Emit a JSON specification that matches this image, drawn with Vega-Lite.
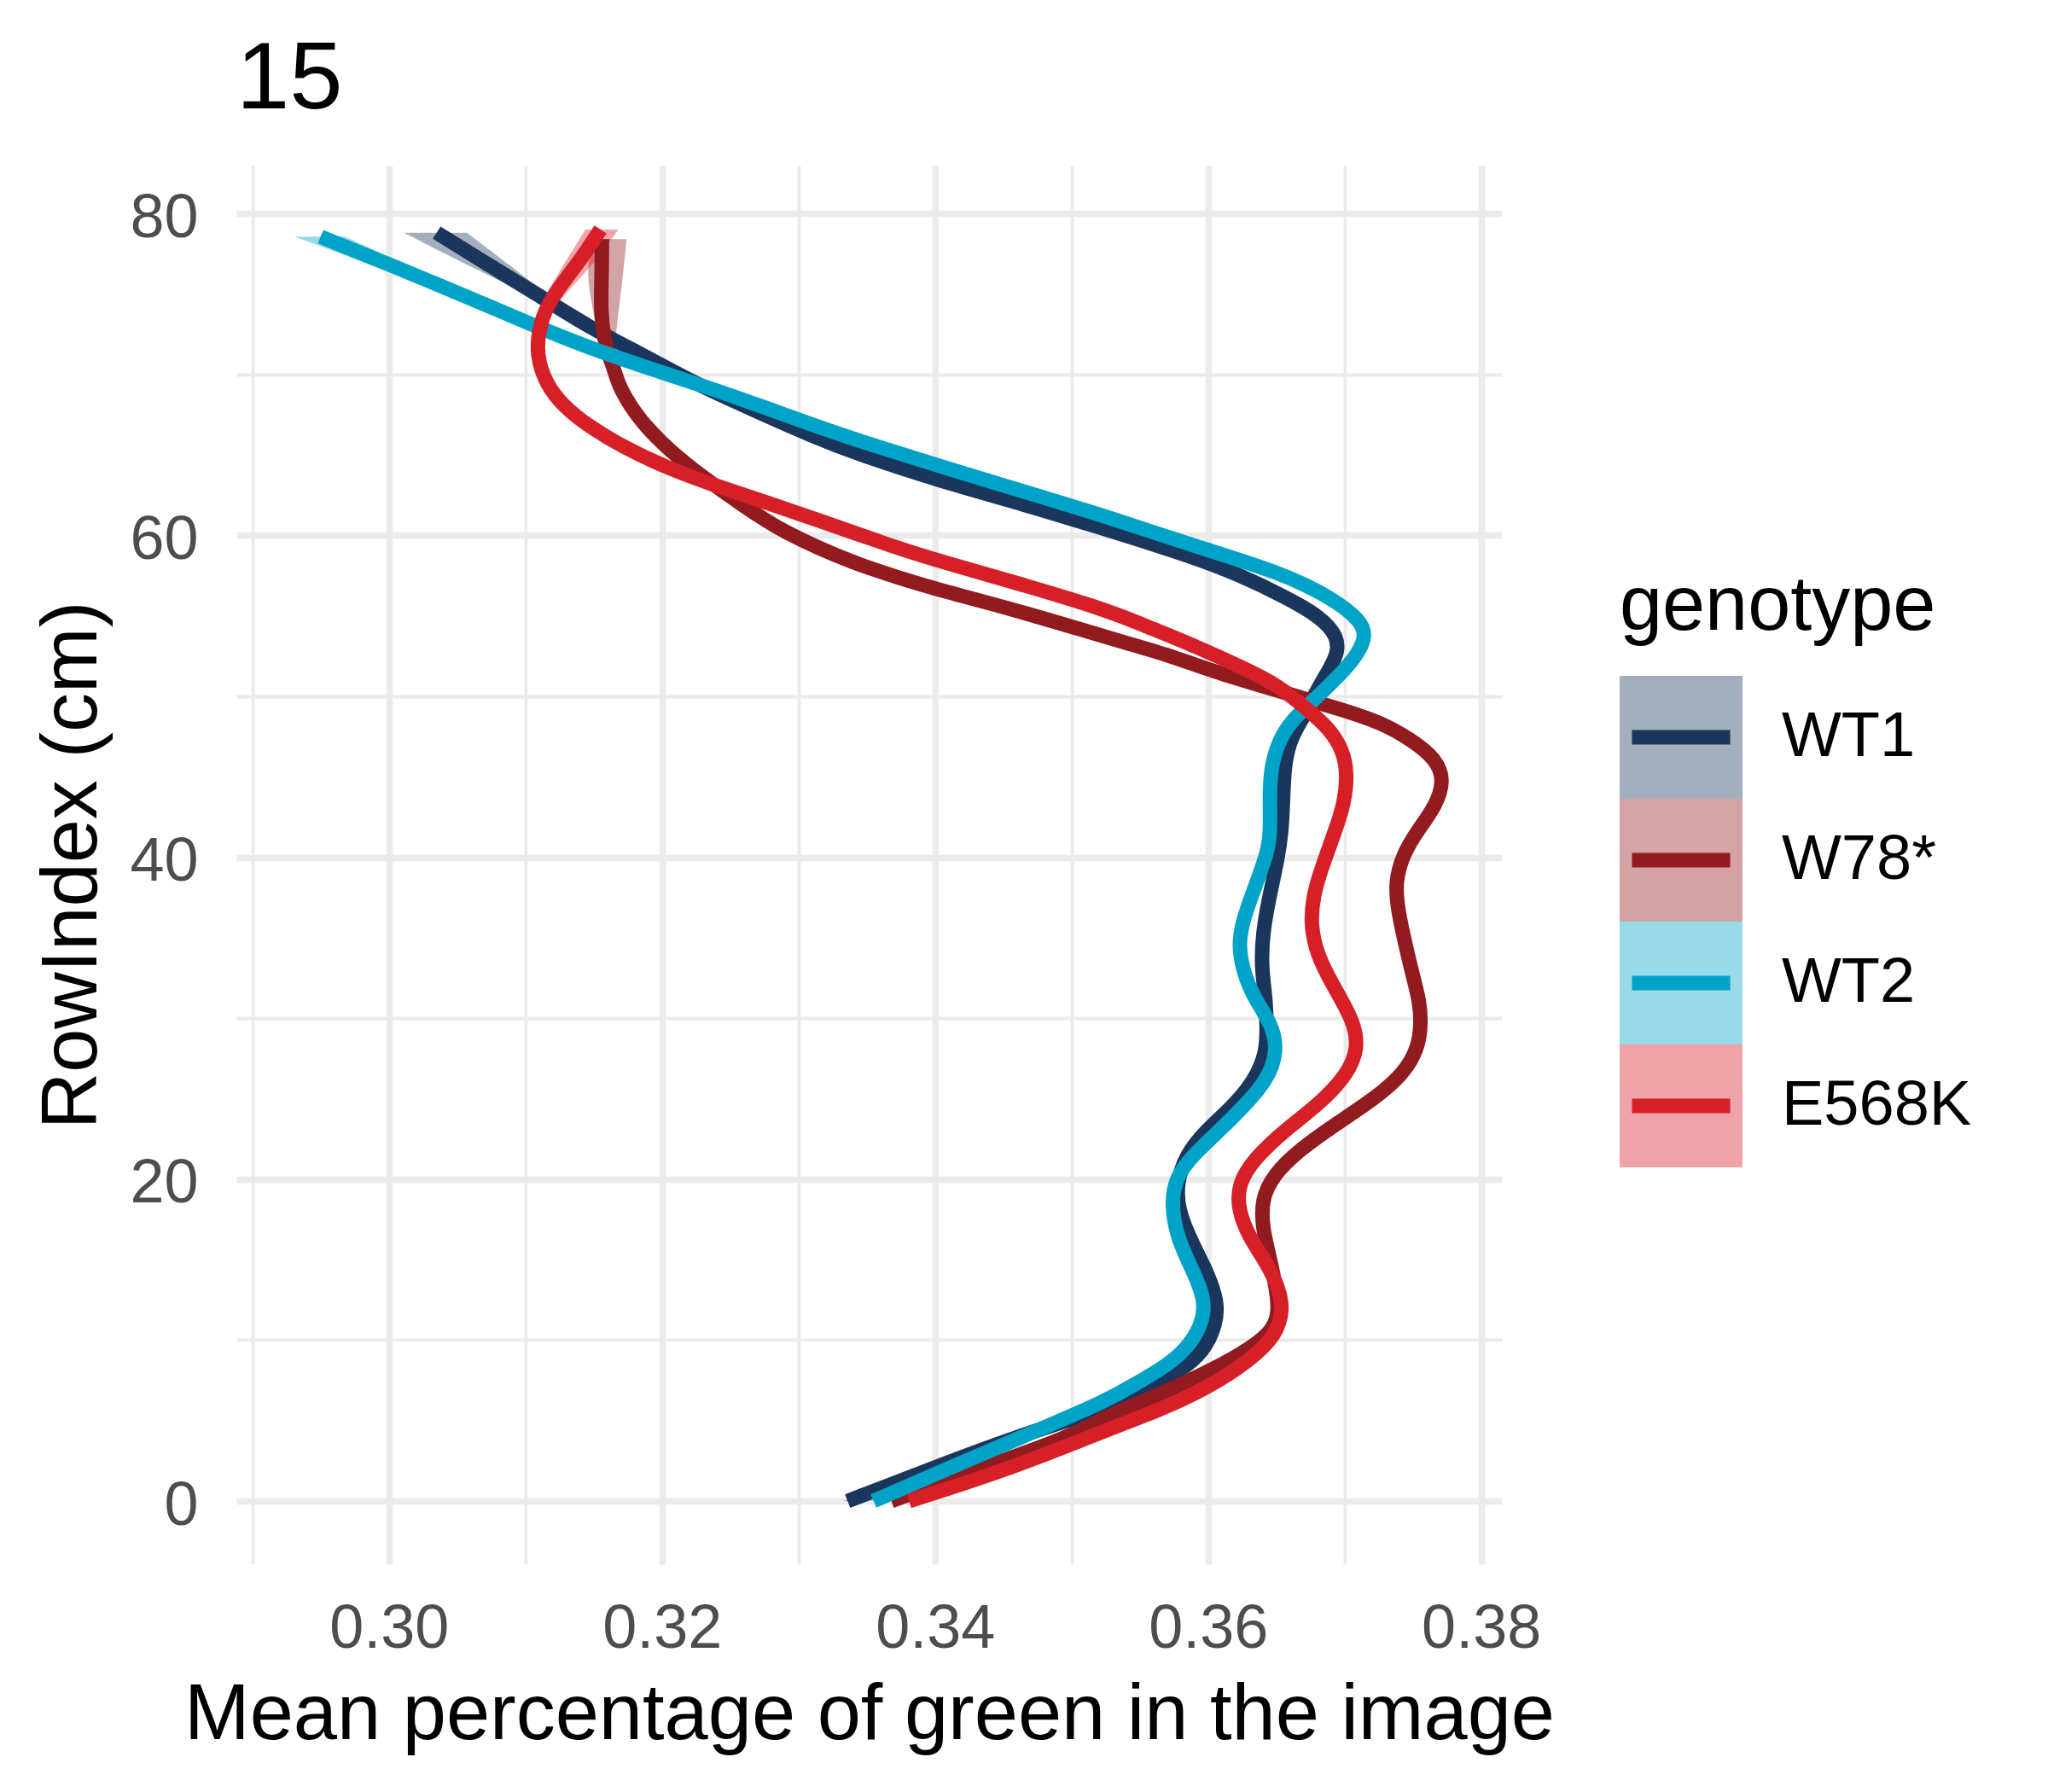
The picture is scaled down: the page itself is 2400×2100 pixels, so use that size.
{
  "$schema": "https://vega.github.io/schema/vega-lite/v6.json",
  "width": 1483,
  "height": 1639,
  "autosize": {"type": "none"},
  "padding": {"left": 277, "top": 194, "right": 640, "bottom": 267},
  "background": "white",
  "config": {"view": {"stroke": null}, "font": "Liberation Sans"},
  "title": {"text": "15", "anchor": "start", "frame": "group", "fontSize": 112, "fontWeight": "normal", "color": "black", "baseline": "alphabetic", "offset": -45},
  "data": {"values": [
    {"genotype":"WT1","RowIndex":0,"green":0.3336,"lo":0.3333,"hi":0.3339},
    {"genotype":"WT1","RowIndex":2,"green":0.3397,"lo":0.3394,"hi":0.3400},
    {"genotype":"WT1","RowIndex":4,"green":0.3459,"lo":0.3456,"hi":0.3462},
    {"genotype":"WT1","RowIndex":5.8,"green":0.3528,"lo":0.3525,"hi":0.3531},
    {"genotype":"WT1","RowIndex":7.0,"green":0.3555,"lo":0.3552,"hi":0.3558},
    {"genotype":"WT1","RowIndex":8.1,"green":0.3580,"lo":0.3577,"hi":0.3583},
    {"genotype":"WT1","RowIndex":9.3,"green":0.3597,"lo":0.3594,"hi":0.3600},
    {"genotype":"WT1","RowIndex":11.0,"green":0.3606,"lo":0.3603,"hi":0.3609},
    {"genotype":"WT1","RowIndex":12.4,"green":0.3607,"lo":0.3604,"hi":0.3610},
    {"genotype":"WT1","RowIndex":14.1,"green":0.3600,"lo":0.3597,"hi":0.3603},
    {"genotype":"WT1","RowIndex":15.9,"green":0.3589,"lo":0.3586,"hi":0.3592},
    {"genotype":"WT1","RowIndex":18.0,"green":0.3578,"lo":0.3575,"hi":0.3581},
    {"genotype":"WT1","RowIndex":19.8,"green":0.3577,"lo":0.3574,"hi":0.3580},
    {"genotype":"WT1","RowIndex":21.5,"green":0.3584,"lo":0.3581,"hi":0.3587},
    {"genotype":"WT1","RowIndex":22.9,"green":0.3597,"lo":0.3594,"hi":0.3600},
    {"genotype":"WT1","RowIndex":24.5,"green":0.3618,"lo":0.3615,"hi":0.3621},
    {"genotype":"WT1","RowIndex":26.1,"green":0.3634,"lo":0.3631,"hi":0.3637},
    {"genotype":"WT1","RowIndex":27.9,"green":0.3643,"lo":0.3640,"hi":0.3646},
    {"genotype":"WT1","RowIndex":29.6,"green":0.3643,"lo":0.3640,"hi":0.3646},
    {"genotype":"WT1","RowIndex":31.4,"green":0.3642,"lo":0.3639,"hi":0.3645},
    {"genotype":"WT1","RowIndex":33.2,"green":0.3639,"lo":0.3636,"hi":0.3642},
    {"genotype":"WT1","RowIndex":35.3,"green":0.3640,"lo":0.3637,"hi":0.3643},
    {"genotype":"WT1","RowIndex":37.6,"green":0.3645,"lo":0.3642,"hi":0.3648},
    {"genotype":"WT1","RowIndex":39.9,"green":0.3651,"lo":0.3648,"hi":0.3654},
    {"genotype":"WT1","RowIndex":41.6,"green":0.3654,"lo":0.3651,"hi":0.3657},
    {"genotype":"WT1","RowIndex":43.8,"green":0.3655,"lo":0.3652,"hi":0.3658},
    {"genotype":"WT1","RowIndex":45.9,"green":0.3656,"lo":0.3653,"hi":0.3659},
    {"genotype":"WT1","RowIndex":47.5,"green":0.3661,"lo":0.3658,"hi":0.3664},
    {"genotype":"WT1","RowIndex":48.7,"green":0.3670,"lo":0.3667,"hi":0.3673},
    {"genotype":"WT1","RowIndex":50.1,"green":0.3678,"lo":0.3675,"hi":0.3681},
    {"genotype":"WT1","RowIndex":51.4,"green":0.3687,"lo":0.3684,"hi":0.3690},
    {"genotype":"WT1","RowIndex":52.6,"green":0.3695,"lo":0.3692,"hi":0.3698},
    {"genotype":"WT1","RowIndex":53.7,"green":0.3695,"lo":0.3692,"hi":0.3698},
    {"genotype":"WT1","RowIndex":54.9,"green":0.3683,"lo":0.3680,"hi":0.3686},
    {"genotype":"WT1","RowIndex":56.2,"green":0.3656,"lo":0.3653,"hi":0.3659},
    {"genotype":"WT1","RowIndex":57.5,"green":0.3624,"lo":0.3621,"hi":0.3627},
    {"genotype":"WT1","RowIndex":58.6,"green":0.3591,"lo":0.3588,"hi":0.3594},
    {"genotype":"WT1","RowIndex":60.3,"green":0.3528,"lo":0.3525,"hi":0.3531},
    {"genotype":"WT1","RowIndex":61.9,"green":0.3466,"lo":0.3463,"hi":0.3469},
    {"genotype":"WT1","RowIndex":63.4,"green":0.3403,"lo":0.3400,"hi":0.3406},
    {"genotype":"WT1","RowIndex":65.0,"green":0.3345,"lo":0.3342,"hi":0.3348},
    {"genotype":"WT1","RowIndex":66.2,"green":0.3309,"lo":0.3306,"hi":0.3312},
    {"genotype":"WT1","RowIndex":67.8,"green":0.3267,"lo":0.3264,"hi":0.3270},
    {"genotype":"WT1","RowIndex":69.4,"green":0.3225,"lo":0.3222,"hi":0.3228},
    {"genotype":"WT1","RowIndex":71.2,"green":0.3186,"lo":0.3183,"hi":0.3189},
    {"genotype":"WT1","RowIndex":73.0,"green":0.3145,"lo":0.3142,"hi":0.3148},
    {"genotype":"WT1","RowIndex":74.9,"green":0.3110,"lo":0.3104,"hi":0.3117},
    {"genotype":"WT1","RowIndex":77.0,"green":0.3069,"lo":0.3052,"hi":0.3085},
    {"genotype":"WT1","RowIndex":78.8,"green":0.3035,"lo":0.3011,"hi":0.3057},

    {"genotype":"W78*","RowIndex":0,"green":0.3368,"lo":0.3365,"hi":0.3371},
    {"genotype":"W78*","RowIndex":2,"green":0.3432,"lo":0.3429,"hi":0.3435},
    {"genotype":"W78*","RowIndex":4,"green":0.3500,"lo":0.3497,"hi":0.3503},
    {"genotype":"W78*","RowIndex":5.4,"green":0.3528,"lo":0.3525,"hi":0.3531},
    {"genotype":"W78*","RowIndex":6.4,"green":0.3559,"lo":0.3556,"hi":0.3562},
    {"genotype":"W78*","RowIndex":7.9,"green":0.3597,"lo":0.3594,"hi":0.3600},
    {"genotype":"W78*","RowIndex":9.1,"green":0.3624,"lo":0.3621,"hi":0.3627},
    {"genotype":"W78*","RowIndex":10.4,"green":0.3646,"lo":0.3643,"hi":0.3649},
    {"genotype":"W78*","RowIndex":11.6,"green":0.3652,"lo":0.3649,"hi":0.3655},
    {"genotype":"W78*","RowIndex":13.2,"green":0.3650,"lo":0.3647,"hi":0.3653},
    {"genotype":"W78*","RowIndex":15.2,"green":0.3645,"lo":0.3642,"hi":0.3648},
    {"genotype":"W78*","RowIndex":16.9,"green":0.3640,"lo":0.3637,"hi":0.3643},
    {"genotype":"W78*","RowIndex":18.7,"green":0.3639,"lo":0.3636,"hi":0.3642},
    {"genotype":"W78*","RowIndex":20.3,"green":0.3648,"lo":0.3645,"hi":0.3651},
    {"genotype":"W78*","RowIndex":21.9,"green":0.3668,"lo":0.3665,"hi":0.3671},
    {"genotype":"W78*","RowIndex":23.5,"green":0.3695,"lo":0.3692,"hi":0.3698},
    {"genotype":"W78*","RowIndex":25.0,"green":0.3722,"lo":0.3719,"hi":0.3725},
    {"genotype":"W78*","RowIndex":26.6,"green":0.3744,"lo":0.3741,"hi":0.3747},
    {"genotype":"W78*","RowIndex":28.2,"green":0.3754,"lo":0.3751,"hi":0.3757},
    {"genotype":"W78*","RowIndex":29.6,"green":0.3756,"lo":0.3753,"hi":0.3759},
    {"genotype":"W78*","RowIndex":31.0,"green":0.3755,"lo":0.3752,"hi":0.3758},
    {"genotype":"W78*","RowIndex":32.3,"green":0.3751,"lo":0.3748,"hi":0.3754},
    {"genotype":"W78*","RowIndex":34.4,"green":0.3745,"lo":0.3742,"hi":0.3748},
    {"genotype":"W78*","RowIndex":36.7,"green":0.3739,"lo":0.3736,"hi":0.3742},
    {"genotype":"W78*","RowIndex":38.5,"green":0.3737,"lo":0.3734,"hi":0.3740},
    {"genotype":"W78*","RowIndex":40.2,"green":0.3743,"lo":0.3740,"hi":0.3746},
    {"genotype":"W78*","RowIndex":41.6,"green":0.3753,"lo":0.3750,"hi":0.3756},
    {"genotype":"W78*","RowIndex":43.2,"green":0.3767,"lo":0.3764,"hi":0.3770},
    {"genotype":"W78*","RowIndex":44.8,"green":0.3773,"lo":0.3770,"hi":0.3776},
    {"genotype":"W78*","RowIndex":46.1,"green":0.3767,"lo":0.3764,"hi":0.3770},
    {"genotype":"W78*","RowIndex":47.3,"green":0.3749,"lo":0.3746,"hi":0.3752},
    {"genotype":"W78*","RowIndex":48.4,"green":0.3726,"lo":0.3723,"hi":0.3729},
    {"genotype":"W78*","RowIndex":49.2,"green":0.3697,"lo":0.3694,"hi":0.3700},
    {"genotype":"W78*","RowIndex":50.3,"green":0.3653,"lo":0.3650,"hi":0.3656},
    {"genotype":"W78*","RowIndex":51.5,"green":0.3605,"lo":0.3602,"hi":0.3608},
    {"genotype":"W78*","RowIndex":52.6,"green":0.3570,"lo":0.3567,"hi":0.3573},
    {"genotype":"W78*","RowIndex":53.6,"green":0.3528,"lo":0.3525,"hi":0.3531},
    {"genotype":"W78*","RowIndex":55.2,"green":0.3466,"lo":0.3463,"hi":0.3469},
    {"genotype":"W78*","RowIndex":56.6,"green":0.3403,"lo":0.3400,"hi":0.3406},
    {"genotype":"W78*","RowIndex":57.3,"green":0.3376,"lo":0.3373,"hi":0.3379},
    {"genotype":"W78*","RowIndex":58.2,"green":0.3342,"lo":0.3339,"hi":0.3345},
    {"genotype":"W78*","RowIndex":60.2,"green":0.3288,"lo":0.3285,"hi":0.3291},
    {"genotype":"W78*","RowIndex":62.0,"green":0.3257,"lo":0.3254,"hi":0.3260},
    {"genotype":"W78*","RowIndex":63.6,"green":0.3230,"lo":0.3227,"hi":0.3233},
    {"genotype":"W78*","RowIndex":65.3,"green":0.3205,"lo":0.3202,"hi":0.3208},
    {"genotype":"W78*","RowIndex":67.1,"green":0.3184,"lo":0.3181,"hi":0.3187},
    {"genotype":"W78*","RowIndex":69.1,"green":0.3169,"lo":0.3165,"hi":0.3173},
    {"genotype":"W78*","RowIndex":70.3,"green":0.3165,"lo":0.3161,"hi":0.3169},
    {"genotype":"W78*","RowIndex":71.2,"green":0.3161,"lo":0.3156,"hi":0.3165},
    {"genotype":"W78*","RowIndex":72.1,"green":0.3158,"lo":0.3153,"hi":0.3166},
    {"genotype":"W78*","RowIndex":73.8,"green":0.3155,"lo":0.3150,"hi":0.3168},
    {"genotype":"W78*","RowIndex":76.5,"green":0.3156,"lo":0.3144,"hi":0.3172},
    {"genotype":"W78*","RowIndex":78.4,"green":0.3156,"lo":0.3150,"hi":0.3174},

    {"genotype":"WT2","RowIndex":0,"green":0.3355,"lo":0.3352,"hi":0.3358},
    {"genotype":"WT2","RowIndex":2,"green":0.3409,"lo":0.3406,"hi":0.3412},
    {"genotype":"WT2","RowIndex":4,"green":0.3464,"lo":0.3461,"hi":0.3467},
    {"genotype":"WT2","RowIndex":6.3,"green":0.3528,"lo":0.3525,"hi":0.3531},
    {"genotype":"WT2","RowIndex":7.4,"green":0.3549,"lo":0.3546,"hi":0.3552},
    {"genotype":"WT2","RowIndex":8.4,"green":0.3570,"lo":0.3567,"hi":0.3573},
    {"genotype":"WT2","RowIndex":9.7,"green":0.3587,"lo":0.3584,"hi":0.3590},
    {"genotype":"WT2","RowIndex":11.3,"green":0.3597,"lo":0.3594,"hi":0.3600},
    {"genotype":"WT2","RowIndex":12.7,"green":0.3597,"lo":0.3594,"hi":0.3600},
    {"genotype":"WT2","RowIndex":14.3,"green":0.3589,"lo":0.3586,"hi":0.3592},
    {"genotype":"WT2","RowIndex":16.2,"green":0.3578,"lo":0.3575,"hi":0.3581},
    {"genotype":"WT2","RowIndex":18.3,"green":0.3573,"lo":0.3570,"hi":0.3576},
    {"genotype":"WT2","RowIndex":20.1,"green":0.3576,"lo":0.3573,"hi":0.3579},
    {"genotype":"WT2","RowIndex":21.5,"green":0.3589,"lo":0.3586,"hi":0.3592},
    {"genotype":"WT2","RowIndex":22.9,"green":0.3607,"lo":0.3604,"hi":0.3610},
    {"genotype":"WT2","RowIndex":24.5,"green":0.3626,"lo":0.3623,"hi":0.3629},
    {"genotype":"WT2","RowIndex":26.1,"green":0.3643,"lo":0.3640,"hi":0.3646},
    {"genotype":"WT2","RowIndex":27.9,"green":0.3651,"lo":0.3648,"hi":0.3654},
    {"genotype":"WT2","RowIndex":29.6,"green":0.3647,"lo":0.3644,"hi":0.3650},
    {"genotype":"WT2","RowIndex":31.2,"green":0.3634,"lo":0.3631,"hi":0.3637},
    {"genotype":"WT2","RowIndex":32.8,"green":0.3626,"lo":0.3623,"hi":0.3629},
    {"genotype":"WT2","RowIndex":34.6,"green":0.3622,"lo":0.3619,"hi":0.3625},
    {"genotype":"WT2","RowIndex":36.2,"green":0.3626,"lo":0.3623,"hi":0.3629},
    {"genotype":"WT2","RowIndex":37.6,"green":0.3632,"lo":0.3629,"hi":0.3635},
    {"genotype":"WT2","RowIndex":39.7,"green":0.3641,"lo":0.3638,"hi":0.3644},
    {"genotype":"WT2","RowIndex":41.1,"green":0.3646,"lo":0.3643,"hi":0.3649},
    {"genotype":"WT2","RowIndex":43.8,"green":0.3645,"lo":0.3642,"hi":0.3648},
    {"genotype":"WT2","RowIndex":45.5,"green":0.3646,"lo":0.3643,"hi":0.3649},
    {"genotype":"WT2","RowIndex":47.1,"green":0.3651,"lo":0.3648,"hi":0.3654},
    {"genotype":"WT2","RowIndex":48.5,"green":0.3661,"lo":0.3658,"hi":0.3664},
    {"genotype":"WT2","RowIndex":49.8,"green":0.3678,"lo":0.3675,"hi":0.3681},
    {"genotype":"WT2","RowIndex":51.2,"green":0.3695,"lo":0.3692,"hi":0.3698},
    {"genotype":"WT2","RowIndex":52.4,"green":0.3708,"lo":0.3705,"hi":0.3711},
    {"genotype":"WT2","RowIndex":53.7,"green":0.3716,"lo":0.3713,"hi":0.3719},
    {"genotype":"WT2","RowIndex":54.7,"green":0.3712,"lo":0.3709,"hi":0.3715},
    {"genotype":"WT2","RowIndex":56.1,"green":0.3691,"lo":0.3688,"hi":0.3694},
    {"genotype":"WT2","RowIndex":57.7,"green":0.3653,"lo":0.3650,"hi":0.3656},
    {"genotype":"WT2","RowIndex":59.3,"green":0.3591,"lo":0.3588,"hi":0.3594},
    {"genotype":"WT2","RowIndex":61.1,"green":0.3528,"lo":0.3525,"hi":0.3531},
    {"genotype":"WT2","RowIndex":62.7,"green":0.3466,"lo":0.3463,"hi":0.3469},
    {"genotype":"WT2","RowIndex":64.3,"green":0.3403,"lo":0.3400,"hi":0.3406},
    {"genotype":"WT2","RowIndex":65.9,"green":0.3343,"lo":0.3340,"hi":0.3346},
    {"genotype":"WT2","RowIndex":66.9,"green":0.3309,"lo":0.3306,"hi":0.3312},
    {"genotype":"WT2","RowIndex":68.2,"green":0.3267,"lo":0.3264,"hi":0.3270},
    {"genotype":"WT2","RowIndex":69.4,"green":0.3226,"lo":0.3223,"hi":0.3229},
    {"genotype":"WT2","RowIndex":70.5,"green":0.3186,"lo":0.3183,"hi":0.3189},
    {"genotype":"WT2","RowIndex":71.7,"green":0.3145,"lo":0.3142,"hi":0.3148},
    {"genotype":"WT2","RowIndex":73.0,"green":0.3107,"lo":0.3104,"hi":0.3110},
    {"genotype":"WT2","RowIndex":74.5,"green":0.3066,"lo":0.3059,"hi":0.3074},
    {"genotype":"WT2","RowIndex":76.6,"green":0.3007,"lo":0.2993,"hi":0.3018},
    {"genotype":"WT2","RowIndex":78.55,"green":0.2950,"lo":0.2931,"hi":0.2968},

    {"genotype":"E568K","RowIndex":0,"green":0.3381,"lo":0.3378,"hi":0.3384},
    {"genotype":"E568K","RowIndex":2,"green":0.3455,"lo":0.3452,"hi":0.3458},
    {"genotype":"E568K","RowIndex":4.5,"green":0.3528,"lo":0.3525,"hi":0.3531},
    {"genotype":"E568K","RowIndex":5.7,"green":0.3566,"lo":0.3563,"hi":0.3569},
    {"genotype":"E568K","RowIndex":7.1,"green":0.3601,"lo":0.3598,"hi":0.3604},
    {"genotype":"E568K","RowIndex":8.7,"green":0.3630,"lo":0.3627,"hi":0.3633},
    {"genotype":"E568K","RowIndex":10.3,"green":0.3650,"lo":0.3647,"hi":0.3653},
    {"genotype":"E568K","RowIndex":11.9,"green":0.3655,"lo":0.3652,"hi":0.3658},
    {"genotype":"E568K","RowIndex":13.2,"green":0.3652,"lo":0.3649,"hi":0.3655},
    {"genotype":"E568K","RowIndex":14.8,"green":0.3643,"lo":0.3640,"hi":0.3646},
    {"genotype":"E568K","RowIndex":16.4,"green":0.3630,"lo":0.3627,"hi":0.3633},
    {"genotype":"E568K","RowIndex":18.1,"green":0.3622,"lo":0.3619,"hi":0.3625},
    {"genotype":"E568K","RowIndex":19.7,"green":0.3622,"lo":0.3619,"hi":0.3625},
    {"genotype":"E568K","RowIndex":21.3,"green":0.3634,"lo":0.3631,"hi":0.3637},
    {"genotype":"E568K","RowIndex":23.1,"green":0.3657,"lo":0.3654,"hi":0.3660},
    {"genotype":"E568K","RowIndex":24.7,"green":0.3682,"lo":0.3679,"hi":0.3685},
    {"genotype":"E568K","RowIndex":26.5,"green":0.3702,"lo":0.3699,"hi":0.3705},
    {"genotype":"E568K","RowIndex":28.1,"green":0.3710,"lo":0.3707,"hi":0.3713},
    {"genotype":"E568K","RowIndex":29.8,"green":0.3707,"lo":0.3704,"hi":0.3710},
    {"genotype":"E568K","RowIndex":32.1,"green":0.3691,"lo":0.3688,"hi":0.3694},
    {"genotype":"E568K","RowIndex":33.9,"green":0.3680,"lo":0.3677,"hi":0.3683},
    {"genotype":"E568K","RowIndex":35.8,"green":0.3675,"lo":0.3672,"hi":0.3678},
    {"genotype":"E568K","RowIndex":37.6,"green":0.3677,"lo":0.3674,"hi":0.3680},
    {"genotype":"E568K","RowIndex":39.3,"green":0.3683,"lo":0.3680,"hi":0.3686},
    {"genotype":"E568K","RowIndex":41.6,"green":0.3693,"lo":0.3690,"hi":0.3696},
    {"genotype":"E568K","RowIndex":43.4,"green":0.3700,"lo":0.3697,"hi":0.3703},
    {"genotype":"E568K","RowIndex":45.2,"green":0.3702,"lo":0.3699,"hi":0.3705},
    {"genotype":"E568K","RowIndex":46.6,"green":0.3699,"lo":0.3696,"hi":0.3702},
    {"genotype":"E568K","RowIndex":48.0,"green":0.3689,"lo":0.3686,"hi":0.3692},
    {"genotype":"E568K","RowIndex":49.4,"green":0.3670,"lo":0.3667,"hi":0.3673},
    {"genotype":"E568K","RowIndex":50.8,"green":0.3649,"lo":0.3646,"hi":0.3652},
    {"genotype":"E568K","RowIndex":51.9,"green":0.3622,"lo":0.3619,"hi":0.3625},
    {"genotype":"E568K","RowIndex":53.1,"green":0.3591,"lo":0.3588,"hi":0.3594},
    {"genotype":"E568K","RowIndex":54.2,"green":0.3559,"lo":0.3556,"hi":0.3562},
    {"genotype":"E568K","RowIndex":55.3,"green":0.3528,"lo":0.3525,"hi":0.3531},
    {"genotype":"E568K","RowIndex":56.9,"green":0.3466,"lo":0.3463,"hi":0.3469},
    {"genotype":"E568K","RowIndex":58.4,"green":0.3403,"lo":0.3400,"hi":0.3406},
    {"genotype":"E568K","RowIndex":59.3,"green":0.3369,"lo":0.3366,"hi":0.3372},
    {"genotype":"E568K","RowIndex":60.9,"green":0.3316,"lo":0.3313,"hi":0.3319},
    {"genotype":"E568K","RowIndex":62.0,"green":0.3278,"lo":0.3275,"hi":0.3281},
    {"genotype":"E568K","RowIndex":63.0,"green":0.3242,"lo":0.3239,"hi":0.3245},
    {"genotype":"E568K","RowIndex":64.1,"green":0.3206,"lo":0.3203,"hi":0.3209},
    {"genotype":"E568K","RowIndex":65.5,"green":0.3171,"lo":0.3168,"hi":0.3174},
    {"genotype":"E568K","RowIndex":66.8,"green":0.3146,"lo":0.3143,"hi":0.3149},
    {"genotype":"E568K","RowIndex":68.0,"green":0.3128,"lo":0.3125,"hi":0.3131},
    {"genotype":"E568K","RowIndex":69.4,"green":0.3115,"lo":0.3112,"hi":0.3118},
    {"genotype":"E568K","RowIndex":71.2,"green":0.3108,"lo":0.3105,"hi":0.3111},
    {"genotype":"E568K","RowIndex":73.0,"green":0.3110,"lo":0.3106,"hi":0.3114},
    {"genotype":"E568K","RowIndex":74.7,"green":0.3118,"lo":0.3113,"hi":0.3125},
    {"genotype":"E568K","RowIndex":76.8,"green":0.3138,"lo":0.3128,"hi":0.3150},
    {"genotype":"E568K","RowIndex":79.0,"green":0.3155,"lo":0.3144,"hi":0.3168}
  ]},
  "layer": [
    {
      "mark": {"type": "area", "orient": "horizontal", "interpolate": "basis", "fillOpacity": 0.4, "strokeWidth": 0},
      "encoding": {
        "y": {
          "field": "RowIndex", "type": "quantitative",
          "scale": {"domain": [-3.92, 82.97], "nice": false, "zero": false},
          "axis": {
            "title": "RowIndex (cm)",
            "values": [0, 10, 20, 30, 40, 50, 60, 70, 80],
            "domain": false, "ticks": false,
            "grid": true, "gridColor": "#EBEBEB",
            "gridWidth": {"condition": {"test": "datum.value % 20 == 0", "value": 7.5}, "value": 3.8},
            "labelExpr": "datum.value % 20 == 0 ? datum.label : ''",
            "labelFontSize": 72, "labelColor": "#4D4D4D", "labelPadding": 45,
            "labelOverlap": false, "labelBound": false, "labelFlush": false,
            "labelBaseline": "middle", "labelOffset": 5,
            "titleFontSize": 92, "titleFontWeight": "normal", "titleColor": "black",
            "titleAngle": -90, "titleX": -165, "titleY": 819.5, "titleBaseline": "alphabetic", "titleAlign": "center"
          }
        },
        "x": {
          "field": "lo", "type": "quantitative", "stack": null,
          "scale": {"domain": [0.28883, 0.38152], "nice": false, "zero": false},
          "axis": {
            "title": "Mean percentage of green in the image",
            "values": [0.29, 0.30, 0.31, 0.32, 0.33, 0.34, 0.35, 0.36, 0.37, 0.38],
            "domain": false, "ticks": false,
            "grid": true, "gridColor": "#EBEBEB",
            "gridWidth": {"condition": {"test": "round(datum.value * 100) % 2 == 0", "value": 7.5}, "value": 3.8},
            "labelExpr": "round(datum.value * 100) % 2 == 0 ? format(datum.value, '.2f') : ''",
            "labelFontSize": 72, "labelColor": "#4D4D4D", "labelPadding": 40,
            "labelOverlap": false, "labelBound": false, "labelFlush": false,
            "titleFontSize": 92, "titleFontWeight": "normal", "titleColor": "black",
            "titleX": 741.5, "titleY": 204, "titleBaseline": "alphabetic", "titleAlign": "center"
          }
        },
        "x2": {"field": "hi"},
        "fill": {
          "field": "genotype", "type": "nominal",
          "scale": {"domain": ["WT1", "W78*", "WT2", "E568K"], "range": ["#1B365D", "#921B1F", "#00A3C8", "#D71F27"]},
          "legend": {
            "orient": "none", "legendX": 1621, "legendY": 473, "direction": "vertical",
            "title": "genotype", "titleFontSize": 90, "titleFontWeight": "normal", "titleColor": "black", "titlePadding": 35, "titleLimit": 1000,
            "padding": 0, "rowPadding": 0, "clipHeight": 144,
            "symbolType": "square", "symbolSize": 16129, "symbolOpacity": 0.4, "symbolStrokeWidth": 17,
            "labelFontSize": 74, "labelOffset": 46, "labelOpacity": 0, "labelLimit": 1000,
            "encode": {"symbols": {"update": {"stroke": {"scale": "fill", "field": "value"}, "strokeWidth": {"value": 17}, "opacity": {"value": 0.4}}}}
          }
        }
      }
    },
    {
      "mark": {"type": "line", "interpolate": "basis", "strokeWidth": 17, "strokeCap": "butt", "strokeJoin": "round"},
      "encoding": {
        "y": {"field": "RowIndex", "type": "quantitative", "scale": {"domain": [-3.92, 82.97], "nice": false, "zero": false}},
        "x": {"field": "green", "type": "quantitative", "scale": {"domain": [0.28883, 0.38152], "nice": false, "zero": false}},
        "order": {"field": "RowIndex", "type": "quantitative"},
        "stroke": {
          "field": "genotype", "type": "nominal",
          "sort": ["WT1", "W78*", "WT2", "E568K"],
          "scale": {"range": ["#1B365D", "#921B1F", "#00A3C8", "#D71F27"]},
          "legend": {
            "orient": "none", "legendX": 1621, "legendY": 473, "direction": "vertical",
            "title": "genotype", "titleFontSize": 90, "titleFontWeight": "normal", "titleColor": "black", "titlePadding": 35, "titleOpacity": 0, "titleLimit": 1000,
            "padding": 0, "rowPadding": 0, "clipHeight": 144,
            "symbolType": "M-0.906,0H0.906", "symbolSize": 16129, "symbolStrokeWidth": 17, "symbolFillColor": "transparent", "symbolOpacity": 1,
            "labelFontSize": 74, "labelOffset": 46, "labelColor": "black", "labelLimit": 1000
          }
        }
      }
    }
  ]
}
